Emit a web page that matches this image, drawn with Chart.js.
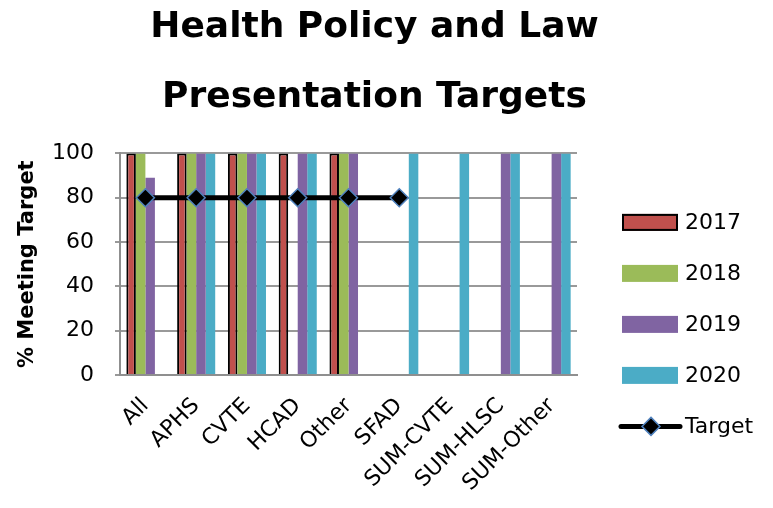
<!DOCTYPE html>
<html>
<head>
<meta charset="utf-8">
<script src="https://cdn.jsdelivr.net/npm/chart.js@4/dist/chart.umd.min.js"></script>
<style>
  html, body { margin: 0; padding: 0; background: #ffffff; }
  #wrap { width: 773px; height: 508px; }
</style>
</head>
<body>
<div id="wrap"><canvas id="c" width="773" height="508"></canvas></div>
<script>
const categories = ["All", "APHS", "CVTE", "HCAD", "Other", "SFAD", "SUM-CVTE", "SUM-HLSC", "SUM-Other"];
const values2017 = [100, 100, 100, 100, 100, null, null, null, null];
const values2018 = [100, 100, 100, null, 100, null, null, null, null];
const values2019 = [89, 100, 100, 100, 100, null, null, 100, 100];
const values2020 = [null, 100, 100, 100, null, 100, 100, 100, 100];
const targetValues = [80, 80, 80, 80, 80, 80, null, null, null];
const yTicks = [0, 20, 40, 60, 80, 100];
const titleLines = ["Health Policy and Law", "Presentation Targets"];
const yTitle = "% Meeting Target";

const FONT = "'DejaVu Sans', sans-serif";

const legendPlugin = {
  id: 'sideLegend',
  afterDraw(chart) {
    const ctx = chart.ctx;
    const area = chart.chartArea;
    const x0 = area.right + 45;
    let y = area.top + 69;
    const step = 51;
    ctx.save();
    ctx.font = "22px " + FONT;
    ctx.textBaseline = 'middle';
    ctx.textAlign = 'left';
    chart.data.datasets.forEach(ds => {
      if (ds.type === 'line') {
        ctx.strokeStyle = ds.borderColor;
        ctx.lineWidth = ds.borderWidth;
        ctx.lineCap = 'round';
        ctx.beginPath();
        ctx.moveTo(x0 - 1, y);
        ctx.lineTo(x0 + 58, y);
        ctx.stroke();
        const r = ds.pointRadius;
        ctx.beginPath();
        ctx.moveTo(x0 + 29, y - r);
        ctx.lineTo(x0 + 29 + r, y);
        ctx.lineTo(x0 + 29, y + r);
        ctx.lineTo(x0 + 29 - r, y);
        ctx.closePath();
        ctx.fillStyle = ds.pointBackgroundColor;
        ctx.fill();
        ctx.lineWidth = ds.pointBorderWidth;
        ctx.strokeStyle = ds.pointBorderColor;
        ctx.stroke();
      } else {
        ctx.fillStyle = ds.backgroundColor;
        ctx.fillRect(x0, y - 8.5, 56, 17);
        if (ds.borderWidth) {
          ctx.lineWidth = 2;
          ctx.strokeStyle = ds.borderColor;
          ctx.strokeRect(x0 + 1, y - 7.5, 54, 15);
        }
      }
      ctx.fillStyle = '#000000';
      ctx.fillText(ds.label, x0 + 63, y + 1);
      y += step;
    });
    ctx.restore();
  }
};

new Chart(document.getElementById('c'), {
  data: {
    labels: categories,
    datasets: [
      { type: 'bar', label: '2017', data: values2017, order: 1,
        backgroundColor: '#C0504D', borderColor: '#000000', borderWidth: 2, borderSkipped: 'bottom' },
      { type: 'bar', label: '2018', data: values2018, order: 1, backgroundColor: '#9BBB59', borderWidth: 0 },
      { type: 'bar', label: '2019', data: values2019, order: 1, backgroundColor: '#8064A2', borderWidth: 0 },
      { type: 'bar', label: '2020', data: values2020, order: 1, backgroundColor: '#4BACC6', borderWidth: 0 },
      { type: 'line', label: 'Target', data: targetValues, order: 0,
        borderColor: '#000000', borderWidth: 5, pointStyle: 'rectRot',
        pointRadius: 9, pointHoverRadius: 9, pointBackgroundColor: '#000000',
        pointBorderColor: '#4F81BD', pointBorderWidth: 1.5, fill: false, spanGaps: false }
    ]
  },
  options: {
    responsive: false,
    animation: false,
    devicePixelRatio: 1,
    datasets: { bar: { barPercentage: 1.0, categoryPercentage: 0.75 } },
    layout: { padding: { left: 0, right: 24, top: 0, bottom: 0 } },
    plugins: {
      legend: { display: false },
      tooltip: { enabled: false },
      title: {
        display: true, text: titleLines[0], color: '#000000',
        font: { family: FONT, size: 36, weight: 'bold', lineHeight: 1.2 },
        padding: { top: 6, bottom: 27 }
      },
      subtitle: {
        display: true, text: titleLines[1], color: '#000000',
        font: { family: FONT, size: 36, weight: 'bold', lineHeight: 1.2 },
        padding: { top: 0, bottom: 34 }
      }
    },
    scales: {
      x: {
        type: 'category',
        offset: true,
        grid: { display: false, drawTicks: false },
        border: { display: true, color: '#8f8f8f', width: 2 },
        ticks: {
          color: '#000000', autoSkip: false, minRotation: 45, maxRotation: 45,
          padding: 18, font: { family: FONT, size: 22 }
        },
        afterFit(scale) { scale.height = 133; }
      },
      y: {
        type: 'linear', min: 0, max: 100,
        afterBuildTicks(scale) { scale.ticks = yTicks.map(v => ({ value: v })); },
        grid: { color: '#999999', lineWidth: 2, drawTicks: true, tickLength: 5 },
        border: { display: true, color: '#8f8f8f', width: 2 },
        ticks: { color: '#000000', padding: 21, font: { family: FONT, size: 22 } },
        title: {
          display: true, text: yTitle, color: '#000000',
          font: { family: FONT, size: 21, weight: 'bold' },
          padding: { top: 15, bottom: 0 }
        },
        afterFit(scale) { scale.width = 120; }
      },
      legendSpace: {
        type: 'linear', position: 'right', display: true,
        grid: { display: false, drawTicks: false },
        border: { display: false },
        ticks: { display: false },
        afterFit(scale) { scale.width = 172; }
      }
    }
  },
  plugins: [legendPlugin]
});
</script>
</body>
</html>
